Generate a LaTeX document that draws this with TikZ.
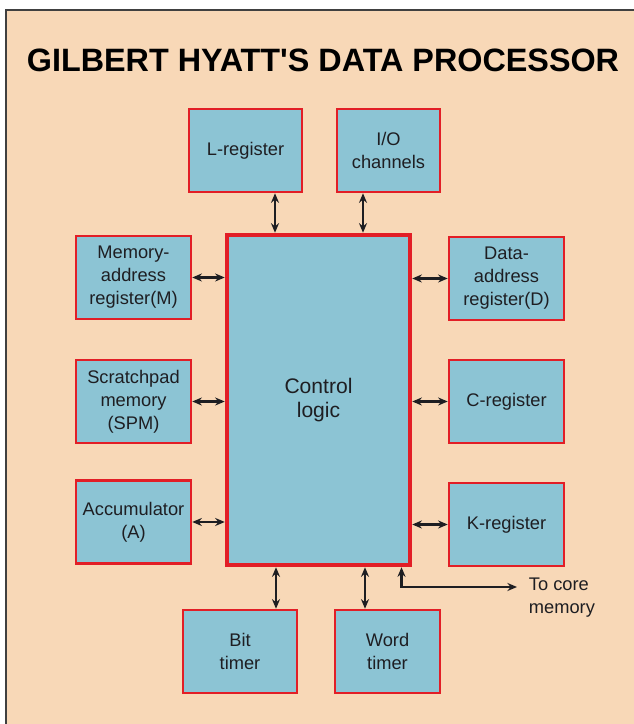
\documentclass[tikz,border=0pt]{standalone}
\usepackage{fontspec}
\setmainfont{Liberation Sans}
\usetikzlibrary{arrows.meta,calc,positioning}
\definecolor{pagecolor}{RGB}{248,216,183}
\definecolor{unitcolor}{RGB}{140,196,212}
\definecolor{edgecolor}{RGB}{226,30,38}
\definecolor{inkcolor}{RGB}{30,30,34}
\tikzset{
  unit box/.style={
      draw=edgecolor, fill=unitcolor, line width=1.8pt,
      align=center, text=inkcolor, inner sep=0pt,
      font=\fontsize{13}{16.4}\selectfont
    },
  data link/.style={
      line width=1.5pt, inkcolor,
      {Stealth[length=2.4mm,width=2mm]}-{Stealth[length=2.4mm,width=2mm]}
    },
  side note/.style={
      align=left, text=inkcolor,
      font=\fontsize{13}{16.4}\selectfont
    }
}

\begin{document}
\begin{tikzpicture}

  % ------------------------------------------------------------------
  % Page and frame.
  % ------------------------------------------------------------------
  \useasboundingbox (0,0) rectangle (15.85,18.1);
  \fill[white] (0,0) rectangle (15.85,18.1);
  \filldraw[fill=pagecolor, draw=black!75, line width=1.4pt]
  (0.15,-1) rectangle (17,17.85);

  \node[font=\bfseries\fontsize{23}{23}\selectfont, text=black] (title)
  at (8.075,16.6) {GILBERT HYATT\textquotesingle S DATA PROCESSOR};

  % ------------------------------------------------------------------
  % Central control logic and surrounding units.
  % ------------------------------------------------------------------
  \node[unit box, line width=3.2pt, minimum width=4.575cm, minimum height=8.25cm,
    font=\fontsize{15}{17.5}\selectfont] (ctrl) at (7.9625,8.1) {Control\\logic};

  \node[unit box, minimum width=2.825cm, minimum height=2.075cm] (lreg)
  at (6.1375,14.3375) {L-register};
  \node[unit box, minimum width=2.575cm, minimum height=2.075cm] (io)
  at (9.7125,14.3375) {I/O\\channels};

  \node[unit box, minimum width=2.875cm, minimum height=2.075cm] (mar)
  at (3.3375,11.1625) {Memory-\\address\\register(M)};
  \node[unit box, minimum width=2.875cm, minimum height=2.075cm] (spm)
  at (3.3375,8.0625) {Scratchpad\\memory\\(SPM)};
  \node[unit box, minimum width=2.875cm, minimum height=2.075cm] (acc)
  at (3.3375,5.05) {Accumulator\\(A)};

  \node[unit box, minimum width=2.875cm, minimum height=2.075cm] (dar)
  at (12.6625,11.1375) {Data-\\address\\register(D)};
  \node[unit box, minimum width=2.875cm, minimum height=2.075cm] (creg)
  at (12.6625,8.0625) {C-register};
  \node[unit box, minimum width=2.875cm, minimum height=2.075cm] (kreg)
  at (12.6625,4.9875) {K-register};

  \node[unit box, minimum width=2.85cm, minimum height=2.075cm] (bit)
  at (6.0,1.8125) {Bit\\timer};
  \node[unit box, minimum width=2.625cm, minimum height=2.075cm] (word)
  at (9.6875,1.8125) {Word\\timer};

  % ------------------------------------------------------------------
  % Two-way links to the control logic.
  % ------------------------------------------------------------------
  \coordinate (lregout) at (6.875,0 |- lreg.south);
  \coordinate (ioout) at (9.075,0 |- io.south);
  \coordinate (bitout) at (6.9,0 |- bit.north);
  \coordinate (wordout) at (9.125,0 |- word.north);

  \draw[data link] (lregout) -- (lregout |- ctrl.north);
  \draw[data link] (ioout) -- (ioout |- ctrl.north);
  \draw[data link] (bitout) -- (bitout |- ctrl.south);
  \draw[data link] (wordout) -- (wordout |- ctrl.south);

  \draw[data link] (mar.east) -- (mar.east -| ctrl.west);
  \draw[data link] (spm.east) -- (spm.east -| ctrl.west);
  \draw[data link] (acc.east) -- (acc.east -| ctrl.west);
  \draw[data link] (dar.west) -- (dar.west -| ctrl.east);
  \draw[data link] (creg.west) -- (creg.west -| ctrl.east);
  \draw[data link] (kreg.west) -- (kreg.west -| ctrl.east);

  % ------------------------------------------------------------------
  % Path out to core memory.
  % ------------------------------------------------------------------
  \coordinate (coreout) at (10.0375,0 |- ctrl.south);
  \coordinate (core) at (12.925,3.425);
  \node[side note, anchor=north west] (coremem) at (13.1,3.78) {To core\\memory};

  \draw[data link] (coreout) |- (core);

\end{tikzpicture}
\end{document}
